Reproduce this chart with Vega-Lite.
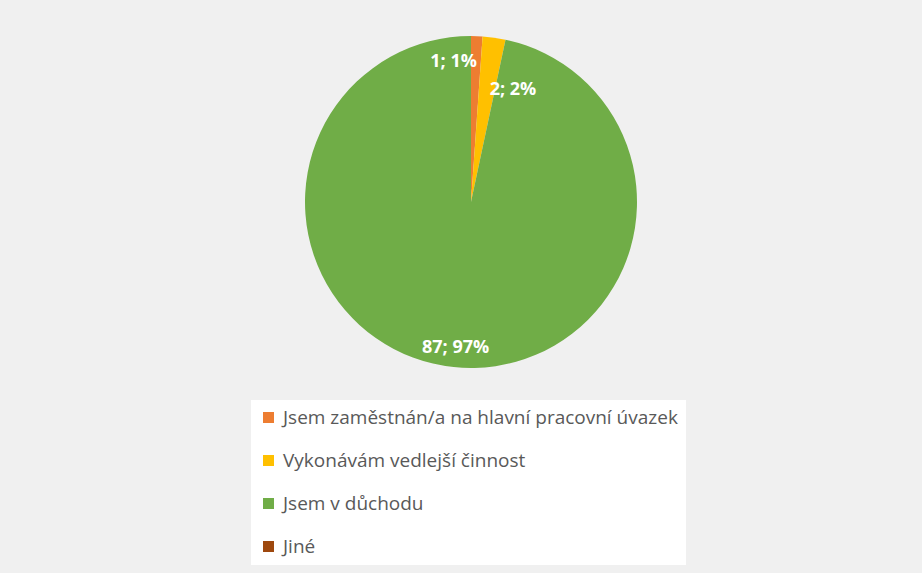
{
  "$schema": "https://vega.github.io/schema/vega-lite/v6.json",
  "width": 902,
  "height": 388,
  "padding": {"left": 20, "top": 8, "right": 0, "bottom": 177},
  "autosize": {"type": "none"},
  "background": "#f0f0f0",
  "config": {"view": {"stroke": null}},
  "data": {"values": [
    {"idx": 1, "cat": "Jsem zaměstnán/a na hlavní pracovní úvazek", "count": 1, "label": "1; 1%"},
    {"idx": 2, "cat": "Vykonávám vedlejší činnost", "count": 2, "label": "2; 2%"},
    {"idx": 3, "cat": "Jsem v důchodu", "count": 87, "label": "87; 97%"},
    {"idx": 4, "cat": "\u2002Jiné", "count": 0, "label": ""}
  ]},
  "layer": [
    {
      "mark": {"type": "arc", "radius": 166},
      "encoding": {
        "theta": {"field": "count", "type": "quantitative", "stack": true},
        "order": {"field": "idx", "type": "quantitative"},
        "color": {
          "field": "cat", "type": "nominal",
          "scale": {
            "domain": ["Jsem zaměstnán/a na hlavní pracovní úvazek", "Vykonávám vedlejší činnost", "Jsem v důchodu", "\u2002Jiné"],
            "range": ["#ED7D31", "#FFC000", "#70AD47", "#9E480E"]
          },
          "legend": {
            "title": null, "orient": "none", "legendX": 231, "legendY": 392,
            "fillColor": "#ffffff", "padding": 8, "symbolType": "square", "symbolSize": 121,
            "symbolStrokeWidth": 0, "labelFont": "Open Sans", "labelFontSize": 19,
            "labelColor": "#595959", "rowPadding": 23, "labelOffset": 5, "labelLimit": 0
          }
        }
      }
    },
    {
      "mark": {"type": "text", "radius": 140, "align": "right", "baseline": "middle", "dx": 1, "font": "Open Sans", "fontWeight": "bold", "fontSize": 18, "color": "#ffffff"},
      "encoding": {
        "theta": {"field": "count", "type": "quantitative", "stack": true},
        "order": {"field": "idx", "type": "quantitative"},
        "detail": {"field": "cat", "type": "nominal"},
        "text": {"condition": {"test": "datum.idx === 1", "field": "label"}, "value": ""}
      }
    },
    {
      "mark": {"type": "text", "radius": 113, "align": "left", "baseline": "middle", "dx": 3, "font": "Open Sans", "fontWeight": "bold", "fontSize": 18, "color": "#ffffff"},
      "encoding": {
        "theta": {"field": "count", "type": "quantitative", "stack": true},
        "order": {"field": "idx", "type": "quantitative"},
        "detail": {"field": "cat", "type": "nominal"},
        "text": {"condition": {"test": "datum.idx === 2", "field": "label"}, "value": ""}
      }
    },
    {
      "mark": {"type": "text", "radius": 147, "align": "center", "baseline": "middle", "font": "Open Sans", "fontWeight": "bold", "fontSize": 18, "color": "#ffffff"},
      "encoding": {
        "theta": {"field": "count", "type": "quantitative", "stack": true},
        "order": {"field": "idx", "type": "quantitative"},
        "detail": {"field": "cat", "type": "nominal"},
        "text": {"condition": {"test": "datum.idx === 3", "field": "label"}, "value": ""}
      }
    }
  ]
}
